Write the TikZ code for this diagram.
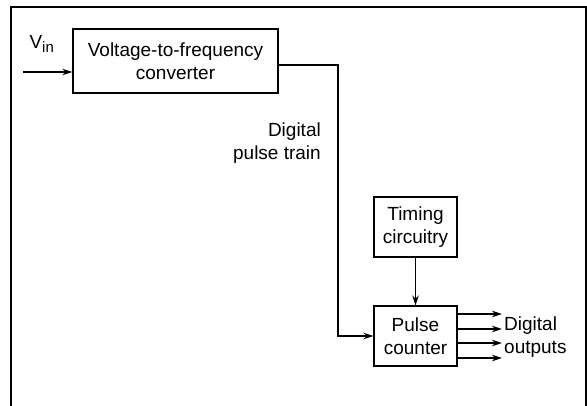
\documentclass[tikz,border=0pt]{standalone}
\usepackage{fontspec}
\setmainfont{Liberation Sans}
\usetikzlibrary{arrows.meta,calc}
\begin{document}
\begin{tikzpicture}[x=1pt,y=-1pt,
  every node/.style={font=\fontsize{19}{23}\selectfont},
  blk/.style={draw,line width=1.3pt,inner sep=0pt,align=center},
  conn/.style={line width=1.3pt,-{Stealth[length=10pt,width=6.5pt]}},
  wire/.style={line width=1.3pt}]
\useasboundingbox (0,0) rectangle (587,406);
\draw[wire] (11,406) -- (11,7) -- (586,7) -- (586,406);
\node[blk,minimum width=205pt,minimum height=64pt] (conv) at (175.5,61) {Voltage-to-frequency\\converter};
\node[blk,minimum width=83pt,minimum height=60pt] (tim) at (415.5,227) {Timing\\circuitry};
\node[blk,minimum width=83pt,minimum height=60pt] (pc) at (415.5,336) {Pulse\\counter};
\coordinate (vin) at (23,72);
\node (vinlbl) at (42,44) {V\textsubscript{\fontsize{15}{15}\selectfont in}};
\draw[conn] (vin) -- (vin -| conv.west);
\coordinate (bend) at (338,65);
\draw[conn] (bend -| conv.east) -- (bend) -- (bend |- pc.west) -- (pc.west);
\node[anchor=east,align=right,inner sep=0pt] (dpt) at (321,143) {Digital\\pulse train};
\draw[conn] (tim.south) -- (pc.north);
\coordinate (o1) at (502,314);
\coordinate (o2) at (502,329);
\coordinate (o3) at (502,343);
\coordinate (o4) at (502,358);
\foreach \o in {o1,o2,o3,o4} \draw[conn] (\o -| pc.east) -- (\o);
\node[anchor=west,align=left,inner sep=0pt] (dout) at (504,337) {Digital\\outputs};
\end{tikzpicture}
\end{document}
